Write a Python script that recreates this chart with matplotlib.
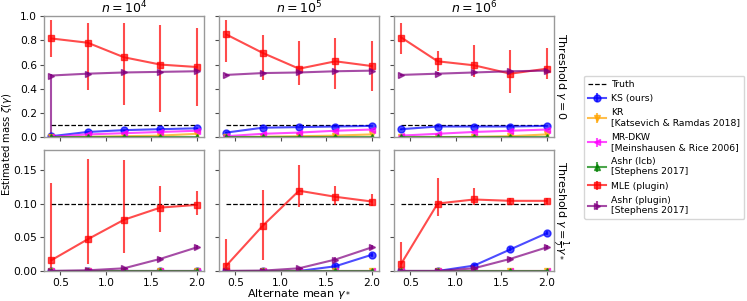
import numpy as np
import matplotlib
matplotlib.use('Agg')
import matplotlib.pyplot as plt

plt.rcParams['font.family'] = ['DejaVu Sans']
plt.rcParams['axes.edgecolor'] = '0.6'
plt.rcParams['axes.linewidth'] = 1.0
plt.rcParams['xtick.color'] = '0.3'
plt.rcParams['ytick.color'] = '0.3'
plt.rcParams['xtick.labelcolor'] = 'black'
plt.rcParams['ytick.labelcolor'] = 'black'
plt.rcParams['mathtext.fontset'] = 'dejavusans'

gamma_star = [0.4, 0.8, 1.2, 1.6, 2.0]
n_titles = [r'$n = 10^4$', r'$n = 10^5$', r'$n = 10^6$']
truth = 0.1

# threshold gamma = 0 (top row), one list per n
ks_top = [[0.01, 0.045, 0.06, 0.068, 0.075],
          [0.04, 0.08, 0.085, 0.09, 0.095],
          [0.068, 0.09, 0.09, 0.09, 0.095]]
kr_top = [[0.0, 0.005, 0.01, 0.015, 0.03],
          [0.0, 0.005, 0.01, 0.015, 0.025],
          [0.0, 0.002, 0.005, 0.01, 0.025]]
mrdkw_top = [[0.005, 0.025, 0.035, 0.045, 0.055],
             [0.01, 0.03, 0.04, 0.055, 0.065],
             [0.015, 0.03, 0.045, 0.055, 0.065]]
lcb_top = [[0.0, 0.0, 0.0, 0.0, 0.0]] * 3
mle_top = [[0.815, 0.78, 0.66, 0.60, 0.58],
           [0.848, 0.696, 0.566, 0.627, 0.588],
           [0.823, 0.627, 0.594, 0.525, 0.566]]
mle_top_lo = [[0.665, 0.39, 0.27, 0.21, 0.26],
              [0.62, 0.47, 0.43, 0.40, 0.385],
              [0.69, 0.545, 0.50, 0.37, 0.48]]
mle_top_hi = [[0.965, 0.94, 0.945, 0.93, 0.90],
              [0.965, 0.84, 0.795, 0.815, 0.795],
              [0.94, 0.71, 0.76, 0.72, 0.74]]
ashr_top = [[0.51, 0.525, 0.535, 0.54, 0.545],
            [0.515, 0.53, 0.535, 0.545, 0.55],
            [0.515, 0.525, 0.535, 0.545, 0.55]]
ashr_top_lo = [[0.0, 0.515, 0.525, 0.53, 0.535],
               [0.51, 0.52, 0.525, 0.535, 0.54],
               [0.51, 0.515, 0.525, 0.535, 0.54]]
ashr_top_hi = [[0.52, 0.535, 0.545, 0.55, 0.555],
               [0.52, 0.54, 0.545, 0.555, 0.56],
               [0.52, 0.535, 0.545, 0.555, 0.56]]

# threshold gamma = gamma_*/2 (bottom row)
ks_bot = [[0.0, 0.0, 0.0, 0.0, 0.0],
          [0.0, 0.0, 0.0, 0.007, 0.024],
          [0.0, 0.0, 0.008, 0.032, 0.056]]
kr_bot = [[0.0, 0.0, 0.0, 0.0, 0.0]] * 3
mrdkw_bot = [[0.0, 0.0, 0.0, 0.0, 0.0]] * 3
lcb_bot = [[0.0, 0.0, 0.0, 0.0, 0.0]] * 3
mle_bot = [[0.016, 0.047, 0.076, 0.094, 0.098],
           [0.008, 0.067, 0.119, 0.110, 0.103],
           [0.011, 0.100, 0.106, 0.104, 0.104]]
mle_bot_lo = [[0.0, 0.011, 0.026, 0.058, 0.083],
              [0.0, 0.017, 0.095, 0.098, 0.096],
              [0.0, 0.081, 0.098, 0.100, 0.100]]
mle_bot_hi = [[0.13, 0.166, 0.164, 0.126, 0.119],
              [0.048, 0.12, 0.157, 0.126, 0.114],
              [0.043, 0.138, 0.123, 0.108, 0.108]]
ashr_bot = [[0.0, 0.001, 0.004, 0.018, 0.035],
            [0.0, 0.0005, 0.004, 0.017, 0.035],
            [0.0, 0.0, 0.004, 0.018, 0.035]]
ks_err = 0.003
ashr_err = 0.003

methods = [
    ('KS (ours)', 'blue', 'o'),
    ('KR\n[Katsevich & Ramdas 2018]', 'orange', 'v'),
    ('MR-DKW\n[Meinshausen & Rice 2006]', 'magenta', '<'),
    ('Ashr (lcb)\n[Stephens 2017]', 'green', '^'),
    ('MLE (plugin)', 'red', 's'),
    ('Ashr (plugin)\n[Stephens 2017]', 'purple', '>'),
]

fig, axes = plt.subplots(2, 3, figsize=(7.47, 3.01), dpi=100, sharex=True, sharey='row')
fig.subplots_adjust(left=0.059, right=0.7416, top=0.9468, bottom=0.0997,
                    wspace=0.094, hspace=0.1)

x = np.array(gamma_star)
rows = [
    (ks_top, kr_top, mrdkw_top, lcb_top, mle_top, mle_top_lo, mle_top_hi, ashr_top, ashr_top_lo, ashr_top_hi),
    (ks_bot, kr_bot, mrdkw_bot, lcb_bot, mle_bot, mle_bot_lo, mle_bot_hi, ashr_bot, None, None),
]

for r, row in enumerate(rows):
    ks, kr, mrdkw, lcb, mle, mle_lo, mle_hi, ashr, ashr_lo, ashr_hi = row
    for c in range(3):
        ax = axes[r, c]
        ax.plot(x, [truth] * len(x), 'k--', lw=0.9, label='Truth')
        series = [np.array(ks[c]), np.array(kr[c]), np.array(mrdkw[c]),
                  np.array(lcb[c]), np.array(mle[c]), np.array(ashr[c])]
        for k, (label, color, marker) in enumerate(methods):
            y = series[k]
            if k == 4:
                yerr = [y - np.array(mle_lo[c]), np.array(mle_hi[c]) - y]
            elif k == 5:
                if ashr_lo is not None:
                    yerr = [y - np.array(ashr_lo[c]), np.array(ashr_hi[c]) - y]
                else:
                    yerr = np.where(y > 0.01, ashr_err, 0.0)
            elif k == 0:
                yerr = np.where(y > 0.005, ks_err, 0.0)
            else:
                yerr = np.zeros_like(y)
            ax.errorbar(x, y, yerr=yerr, color=color, marker=marker, ms=5,
                        lw=1.5, elinewidth=1.5, alpha=0.7, label=label)
        if r == 0:
            ax.set_title(n_titles[c], fontsize=9, pad=2)
        ax.tick_params(labelsize=7.7, length=3, pad=2)

axes[0, 0].set_ylim(0, 1.0)
axes[0, 0].set_yticks([0.0, 0.2, 0.4, 0.6, 0.8, 1.0])
axes[1, 0].set_ylim(0, 0.18)
axes[1, 0].set_yticks([0.0, 0.05, 0.10, 0.15])
axes[1, 0].set_xticks([0.5, 1.0, 1.5, 2.0])

axes[0, 2].yaxis.set_label_position('right')
axes[0, 2].set_ylabel(r'Threshold $\gamma = 0$', rotation=270, labelpad=10, fontsize=8)
axes[1, 2].yaxis.set_label_position('right')
axes[1, 2].set_ylabel(r'Threshold $\gamma = \frac{1}{2}\gamma_*$', rotation=270, labelpad=12, fontsize=8)

axes[1, 1].set_xlabel(r'Alternate mean $\gamma_*$', fontsize=8)
axes[1, 1].xaxis.set_label_coords(0.5, -0.135)
fig.text(0.009, 0.52, r'Estimated mass $\widetilde{\zeta}(\gamma)$', rotation=90,
         va='center', ha='center', fontsize=7.2)

handles, labels = axes[0, 0].get_legend_handles_labels()
fig.legend(handles, labels, loc='upper left', bbox_to_anchor=(0.779, 0.755),
           fontsize=6.7, frameon=True, handlelength=1.9, labelspacing=0.55,
           borderpad=0.45, handletextpad=0.6, borderaxespad=0.2)

fig.savefig('out.png', dpi=100)
